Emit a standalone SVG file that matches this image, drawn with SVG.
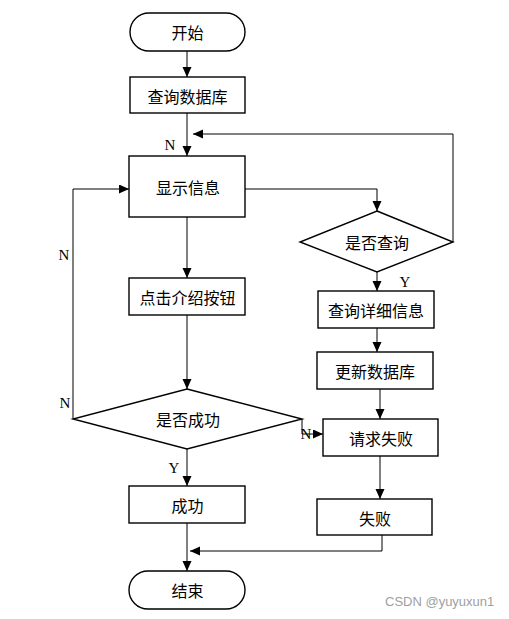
<svg xmlns="http://www.w3.org/2000/svg" width="509" height="619" viewBox="0 0 509 619">
<defs>
<marker id="ah" markerUnits="userSpaceOnUse" markerWidth="10" markerHeight="10" refX="10" refY="4.5" orient="auto">
<path d="M0,0 L10,4.5 L0,9 z" fill="#000"/>
</marker>
</defs>
<style>
.box{fill:#fff;stroke:#000;stroke-width:1.4}
.t{font-family:"Noto Sans CJK SC","Noto Sans",sans-serif;font-size:16px;fill:#000;text-anchor:middle;dominant-baseline:central}
.c{fill:none;stroke:#000;stroke-width:1;marker-end:url(#ah)}
.lab{font-family:"Liberation Serif",serif;font-size:15px;fill:#000;text-anchor:middle;dominant-baseline:central}
.wm{font-family:"Liberation Sans",Arial,sans-serif;font-size:13px;fill:#a0a0a0}
</style>
<rect width="509" height="619" fill="#fff"/>
<g id="connectors">
<path class="c" d="M187,51 V77"/>
<path class="c" d="M187,113 V156"/>
<path class="c" d="M453,242 V134 H193"/>
<path class="c" d="M245,189 H377 V211"/>
<path class="c" d="M187,217 V278"/>
<path class="c" d="M187,315 V389"/>
<path class="c" d="M73,419 V189 H129"/>
<path class="c" d="M302,419 V434 H323"/>
<path class="c" d="M187,449 V486"/>
<path class="c" d="M377,272 V291"/>
<path class="c" d="M377,328 V352"/>
<path class="c" d="M380,389 V419"/>
<path class="c" d="M380,456 V499"/>
<path class="c" d="M187,523 V571"/>
<path class="c" d="M382,535 V551 H190"/>
</g>
<g id="start"><rect class="box" x="130" y="13" width="115" height="38" rx="19" ry="19"/><text class="t" x="187.5" y="32">开始</text></g>
<g id="querydb"><rect class="box" x="130" y="77" width="115" height="36"/><text class="t" x="187.5" y="96">查询数据库</text></g>
<g id="show"><rect class="box" x="129" y="156" width="116" height="61"/><text class="t" x="188" y="187">显示信息</text></g>
<g id="click"><rect class="box" x="129" y="278" width="116" height="37"/><text class="t" x="187.5" y="297">点击介绍按钮</text></g>
<g id="success_q"><polygon class="box" points="187,389 302,419 187,449 73,419"/><text class="t" x="188" y="419">是否成功</text></g>
<g id="success"><rect class="box" x="129" y="486" width="116" height="37"/><text class="t" x="187.5" y="505">成功</text></g>
<g id="end"><rect class="box" x="129" y="571" width="116" height="38" rx="19" ry="19"/><text class="t" x="187.5" y="590">结束</text></g>
<g id="query_q"><polygon class="box" points="377,211 453,242 377,272 300,242"/><text class="t" x="377" y="242">是否查询</text></g>
<g id="detail"><rect class="box" x="318" y="291" width="116" height="37"/><text class="t" x="376" y="310">查询详细信息</text></g>
<g id="updatedb"><rect class="box" x="317" y="352" width="116" height="37"/><text class="t" x="375" y="371">更新数据库</text></g>
<g id="reqfail"><rect class="box" x="323" y="419" width="115" height="37"/><text class="t" x="381" y="438">请求失败</text></g>
<g id="fail"><rect class="box" x="317" y="499" width="115" height="36"/><text class="t" x="375" y="518">失败</text></g>
<g id="labels">
<text class="lab" x="170" y="145">N</text>
<text class="lab" x="64" y="255">N</text>
<text class="lab" x="65" y="403">N</text>
<text class="lab" x="306" y="434">N</text>
<text class="lab" x="174" y="468">Y</text>
<text class="lab" x="405" y="282">Y</text>
</g>
<text class="wm" x="385" y="606">CSDN @yuyuxun1</text>
</svg>
